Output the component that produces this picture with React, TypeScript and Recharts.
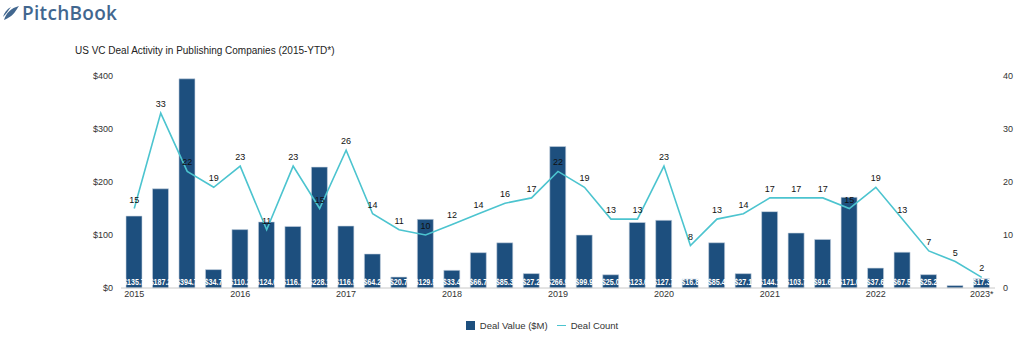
import { Bar, ComposedChart, LabelList, Legend, Line, XAxis, YAxis } from 'recharts'

const yearLabels = [
  '2015', '', '', '',
  '2016', '', '', '',
  '2017', '', '', '',
  '2018', '', '', '',
  '2019', '', '', '',
  '2020', '', '', '',
  '2021', '', '', '',
  '2022', '', '', '',
  '2023*',
]

const dealValue = [
  135.7, 187.2, 394.7, 34.7,
  110.2, 124.6, 116.1, 228.1,
  116.9, 64.2, 20.7, 129.5,
  33.4, 66.7, 85.3, 27.2,
  266.9, 99.9, 25.0, 123.6,
  127.7, 16.8, 85.4, 27.1,
  144.1, 103.7, 91.6, 171.0,
  37.6, 67.5, 25.2, 4.6,
  17.3,
]

const dealCount = [
  15, 33, 22, 19,
  23, 11, 23, 15,
  26, 14, 11, 10,
  12, 14, 16, 17,
  22, 19, 13, 13,
  23, 8, 13, 14,
  17, 17, 17, 15,
  19, 13, 7, 5,
  2,
]

const valueTicks = [0, 100, 200, 300, 400]
const countTicks = [0, 10, 20, 30, 40]

const data = yearLabels.map((year, i) => ({
  year,
  value: dealValue[i],
  count: dealCount[i],
}))

const BAR_COLOR = '#1d4f7e'
const LINE_COLOR = '#4cc4cf'
const FONT = '"Liberation Sans", Arial, sans-serif'

// value sits at the foot of each bar, white, so the overflow disappears on the background
function BarValueLabel(props: any) {
  const { x, y, width, height, value } = props
  if (value < 10) return null
  const bottom = Number(y) + Number(height)
  const text = '$' + Number(value).toFixed(1)
  return (
    <text
      x={Number(x) + Number(width) / 2}
      y={bottom - 3}
      textAnchor="middle"
      fill="#ffffff"
      fontSize={8.5}
      fontWeight="bold"
      fontFamily={FONT}
      textLength={text.length * 3.6}
      lengthAdjust="spacingAndGlyphs"
    >
      {text}
    </text>
  )
}

function ChartLegend() {
  return (
    <div
      style={{
        display: 'flex',
        justifyContent: 'center',
        alignItems: 'center',
        gap: 9,
        paddingTop: 2,
        fontFamily: FONT,
        fontSize: 9.5,
        color: '#333',
      }}
    >
      <span style={{ display: 'flex', alignItems: 'center', gap: 5 }}>
        <span style={{ width: 9, height: 9, background: BAR_COLOR, display: 'inline-block' }} />
        Deal Value ($M)
      </span>
      <span style={{ display: 'flex', alignItems: 'center', gap: 5 }}>
        <span style={{ width: 9, height: 1.5, background: LINE_COLOR, display: 'inline-block' }} />
        Deal Count
      </span>
    </div>
  )
}

function Logo() {
  return (
    <div style={{ position: 'absolute', left: 2, top: 2, display: 'flex', alignItems: 'center', gap: 2 }}>
      <svg width={18} height={16} viewBox="0 0 18 16">
        <path d="M2 15 C4 8 9 3 17 1 C14 5 12 10 6 13 C5 13.5 3.5 14.5 2 15 Z" fill="#42678f" />
        <path d="M1 12 C2 8 5 4 9 2 C6 6 4 9 1 12 Z" fill="#42678f" />
      </svg>
      <span
        style={{
          fontFamily: '"Open Sans", sans-serif',
          fontSize: 19,
          fontWeight: 600,
          color: '#42678f',
          letterSpacing: 0.3,
          lineHeight: '22px',
        }}
      >
        PitchBook
      </span>
    </div>
  )
}

export default function App() {
  return (
    <div style={{ position: 'absolute', left: 0, top: 0, width: 1023, height: 344, background: '#fff' }}>
      <Logo />
      <div
        style={{
          position: 'absolute',
          left: 75,
          top: 45,
          fontFamily: FONT,
          fontSize: 10,
          color: '#222',
        }}
      >
        US VC Deal Activity in Publishing Companies (2015-YTD*)
      </div>
      <ComposedChart
        width={1023}
        height={344}
        data={data}
        margin={{ top: 76, right: 0, bottom: 0, left: 61 }}
        barCategoryGap="20%"
      >
        <XAxis
          dataKey="year"
          interval={0}
          tickLine={false}
          tickSize={0}
          tickMargin={3}
          axisLine={{ stroke: '#c8c8c8' }}
          tick={{ fontSize: 9, fill: '#333', fontFamily: FONT }}
          height={30}
        />
        <YAxis
          yAxisId="left"
          width={60}
          domain={[0, 400]}
          ticks={valueTicks}
          tickFormatter={(v: number) => '$' + v}
          axisLine={false}
          tickLine={false}
          tick={{ fontSize: 9, fill: '#333', fontFamily: FONT }}
        />
        <YAxis
          yAxisId="right"
          orientation="right"
          width={28}
          domain={[0, 40]}
          ticks={countTicks}
          axisLine={false}
          tickLine={false}
          tick={{ fontSize: 9, fill: '#333', fontFamily: FONT }}
        />
        <Legend verticalAlign="bottom" height={26} content={() => <ChartLegend />} />
        <Bar
          yAxisId="left"
          dataKey="value"
          name="Deal Value ($M)"
          fill={BAR_COLOR}
          stroke="#c7d3e0"
          strokeWidth={0.6}
          barSize={16}
          isAnimationActive={false}
        >
          <LabelList dataKey="value" content={BarValueLabel} />
        </Bar>
        <Line
          yAxisId="right"
          type="linear"
          dataKey="count"
          name="Deal Count"
          stroke={LINE_COLOR}
          strokeWidth={1.6}
          dot={false}
          isAnimationActive={false}
        >
          <LabelList dataKey="count" position="top" offset={6} fill="#111" fontSize={9} fontFamily={FONT} />
        </Line>
      </ComposedChart>
    </div>
  )
}
